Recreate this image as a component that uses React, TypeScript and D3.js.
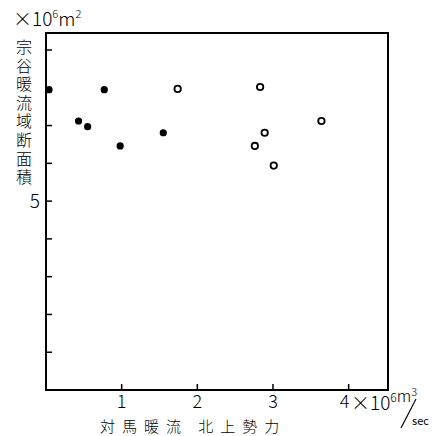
import React from "react";
import * as d3 from "d3";

const filledX = [0.04, 0.77, 0.43, 0.55, 0.98, 1.55];
const filledY = [7.95, 7.95, 7.12, 6.97, 6.46, 6.81];
const openX = [1.74, 2.83, 3.64, 2.89, 2.76, 3.01];
const openY = [7.97, 8.02, 7.12, 6.81, 6.46, 5.94];
const xTickValues = [1, 2, 3, 4];
const xTickLabels = ["1", "2", "3", "4"];
const yTickValues = [1, 2, 3, 4, 5, 6, 7, 8, 9];
const yTickLabels: Record<number, string> = { 5: "5" };
const yLabel = "宗谷暖流域断面積";
const xLabel = "対馬暖流 北上勢力";

const W = 436;
const H = 436;
const L = 46, R = 388, T = 33, B = 390;

export default function App() {
  const x = d3.scaleLinear().domain([0, 4.52]).range([L, R]);
  const y = d3.scaleLinear().domain([0, 9.45]).range([B, T]);
  const font = "'Noto Sans CJK JP', 'DejaVu Sans', sans-serif";
  return (
    <svg width={W} height={H} style={{ position: "absolute", left: 0, top: 0, background: "#fff" }} fontFamily={font}>
      <rect x={0} y={0} width={W} height={H} fill="#fff" />
      <rect x={L} y={T} width={R - L} height={B - T} fill="none" stroke="#000" strokeWidth={2} />
      {yTickValues.map((v) => (
        <line key={"yt" + v} x1={L} x2={L + 6} y1={y(v)} y2={y(v)} stroke="#000" strokeWidth={1.5} />
      ))}
      {xTickValues.map((v) => (
        <line key={"xt" + v} x1={x(v)} x2={x(v)} y1={B} y2={B - 6} stroke="#000" strokeWidth={1.5} />
      ))}
      {yTickValues.filter((v) => yTickLabels[v]).map((v) => (
        <text key={"yl" + v} x={40} y={y(v)} dy="0.35em" textAnchor="end" fontSize={19} fontWeight={300}>{yTickLabels[v]}</text>
      ))}
      {xTickValues.map((v, i) => (
        <text key={"xl" + v} x={x(v) - (v === 4 ? 4 : 0)} y={408} textAnchor="middle" fontSize={18} fontWeight={300}>{xTickLabels[i]}</text>
      ))}
      {/* top y unit */}
      <text x={13} y={26} fontSize={19} fontWeight={300}>
        ×10<tspan fontSize={11} dy={-8}>6</tspan><tspan dy={8}>m</tspan><tspan fontSize={11} dy={-8}>2</tspan>
      </text>
      {/* x unit */}
      <text x={351} y={410} fontSize={19} fontWeight={300}>
        ×10<tspan fontSize={12} dy={-8}>6</tspan><tspan fontSize={16} dy={0}>m</tspan><tspan fontSize={11} dy={-6}>3</tspan>
      </text>
      <line x1={401} y1={428} x2={416} y2={399} stroke="#000" strokeWidth={1.2} />
      <text x={412} y={425} fontSize={11} fontWeight={400}>sec</text>
      <text x={24} y={39} fontSize={16} fontWeight={300} letterSpacing={2.6} style={{ writingMode: "vertical-rl" }}>{yLabel}</text>
      <text x={100} y={431.5} fontSize={15} fontWeight={300} letterSpacing={7}>{xLabel}</text>
      {filledX.map((v, i) => (
        <circle key={"f" + i} cx={x(v)} cy={y(filledY[i])} r={3.6} fill="#000" />
      ))}
      {openX.map((v, i) => (
        <circle key={"o" + i} cx={x(v)} cy={y(openY[i])} r={3.2} fill="#fff" stroke="#000" strokeWidth={1.8} />
      ))}
    </svg>
  );
}
